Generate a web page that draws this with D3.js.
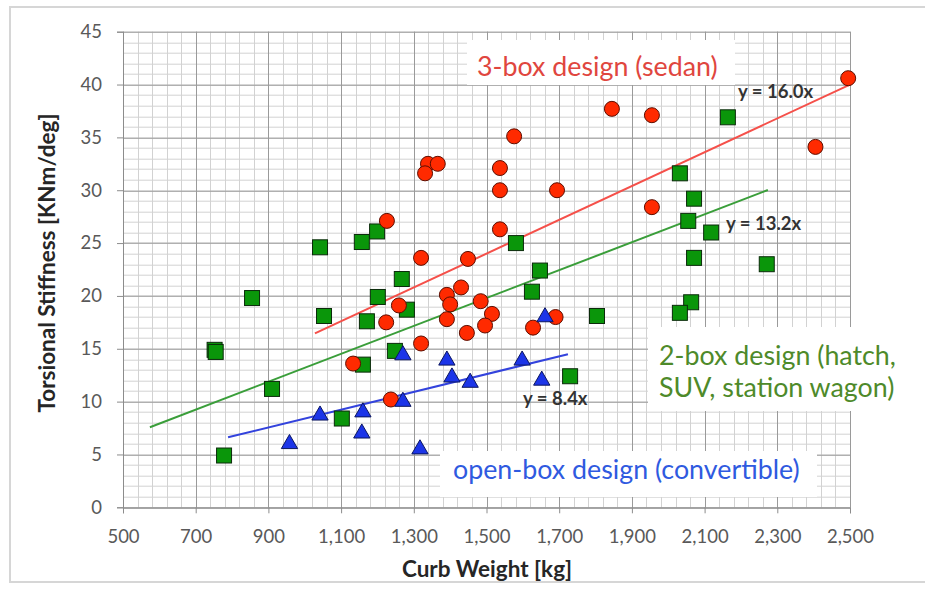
<!DOCTYPE html>
<html>
<head>
<meta charset="utf-8">
<script src="https://cdn.jsdelivr.net/npm/d3@7"></script>
<style>
  body { margin: 0; background: #fff; overflow: hidden; }
  text { font-family: Lato, "Open Sans", sans-serif; }
</style>
</head>
<body>
<div id="chart"></div>
<script>
// values: curb weight [kg], stiffness [KNm/deg]
const sedanWeight = [2495, 2405, 1845, 1955, 1576, 1955, 1694, 1537, 1537, 1537, 1339, 1366, 1331, 1226, 1320, 1449,
	1430, 1391, 1400, 1259, 1484, 1515, 1496, 1391, 1224, 1446, 1320, 1628, 1690, 1133, 1237];
const sedanStiffness = [40.6, 34.1, 37.7, 37.1, 35.1, 28.4, 30.0, 32.1, 30.0, 26.3, 32.5, 32.5, 31.6, 27.1, 23.6, 23.5,
	20.8, 20.1, 19.2, 19.1, 19.5, 18.3, 17.2, 17.8, 17.5, 16.5, 15.5, 17.0, 18.0, 13.6, 10.2];

const hatchWeight = [752, 755, 855, 910, 778, 1042, 1053, 1157, 1199, 1267, 1201, 1171, 1281, 1248, 1160, 1102,
	1581, 1647, 1625, 1804, 1730, 2164, 2032, 2071, 2055, 2118, 2071, 2271, 2063, 2032];
const hatchStiffness = [14.9, 14.7, 19.8, 11.2, 4.9, 24.6, 18.1, 25.1, 26.1, 21.6, 19.9, 17.6, 18.7, 14.8, 13.5, 8.4,
	25.0, 22.4, 20.4, 18.1, 12.4, 36.9, 31.6, 29.2, 27.1, 26.0, 23.6, 23.0, 19.4, 18.4];

const convWeight = [958, 1042, 1160, 1157, 1270, 1270, 1317, 1391, 1405, 1455, 1598, 1652, 1661];
const convStiffness = [6.0, 8.7, 9.0, 7.0, 14.4, 10.0, 5.5, 13.9, 12.3, 11.8, 13.9, 12.0, 18.0];

// linear fits through zero (slope per tonne) and the span each line covers
const trendSlopes = [16.0, 13.2, 8.4];
const trendFrom = [1028, 574, 789];
const trendTo = [2500, 2274, 1724];
const trendLabels = ['y = 16.0x', 'y = 13.2x', 'y = 8.4x'];

const xTickValues = [500, 700, 900, 1100, 1300, 1500, 1700, 1900, 2100, 2300, 2500];
const yTickValues = [0, 5, 10, 15, 20, 25, 30, 35, 40, 45];

// set the dimensions and margins of the graph
const margin = { top: 31.7, right: 75, bottom: 83.7, left: 123 },
	width = 925 - margin.left - margin.right,
	height = 591 - margin.top - margin.bottom;

const root = d3.select('#chart')
	.append('svg')
	.attr('width', 925)
	.attr('height', 591);

// light frame around the whole chart
root.append('rect')
	.attr('x', 10).attr('y', 7)
	.attr('width', 940).attr('height', 575)
	.attr('fill', 'none')
	.attr('stroke', '#d6d6d6')
	.attr('stroke-width', 2);

const svg = root.append('g')
	.attr('transform', `translate(${margin.left},${margin.top})`);

const x = d3.scaleLinear().domain([500, 2500]).range([0, width]);
const y = d3.scaleLinear().domain([0, 45]).range([height, 0]);

// minor grid first, then major
const snap = v => Math.round(v) + 0.5;
svg.append('g')
	.selectAll('line')
	.data(d3.range(500, 2501, 40))
	.join('line')
	.attr('x1', d => snap(x(d))).attr('x2', d => snap(x(d)))
	.attr('y1', 0).attr('y2', height)
	.attr('stroke', '#d2d2d2');
svg.append('g')
	.selectAll('line')
	.data(d3.range(0, 46, 1))
	.join('line')
	.attr('y1', d => snap(y(d))).attr('y2', d => snap(y(d)))
	.attr('x1', 0).attr('x2', width)
	.attr('stroke', '#d2d2d2');
svg.append('g')
	.selectAll('line')
	.data(xTickValues)
	.join('line')
	.attr('x1', d => snap(x(d))).attr('x2', d => snap(x(d)))
	.attr('y1', 0).attr('y2', height)
	.attr('stroke', '#9a9a9a');
svg.append('g')
	.selectAll('line')
	.data(yTickValues)
	.join('line')
	.attr('y1', d => snap(y(d))).attr('y2', d => snap(y(d)))
	.attr('x1', 0).attr('x2', width)
	.attr('stroke', '#9a9a9a');

// axes
const xAxis = svg.append('g')
	.attr('transform', `translate(0,${height})`)
	.call(d3.axisBottom(x).tickValues(xTickValues).tickFormat(d3.format(',')).tickSize(6).tickPadding(17));
const yAxis = svg.append('g')
	.call(d3.axisLeft(y).tickValues(yTickValues).tickSize(6).tickPadding(15));
[xAxis, yAxis].forEach(a => {
	a.select('.domain').attr('stroke', '#8c8c8c');
	a.selectAll('.tick line').attr('stroke', '#8c8c8c');
	a.selectAll('text')
		.attr('fill', '#595959')
		.style('font-family', 'Lato, sans-serif')
		.style('font-size', '18.5px');
});

// axis titles
root.append('text')
	.attr('x', 487).attr('y', 577)
	.attr('text-anchor', 'middle')
	.attr('font-size', 22.5).attr('font-weight', 'bold')
	.attr('fill', '#262626')
	.text('Curb Weight [kg]');
root.append('text')
	.attr('transform', 'translate(55,263) rotate(-90)')
	.attr('text-anchor', 'middle')
	.attr('font-size', 22.5).attr('font-weight', 'bold')
	.attr('fill', '#262626')
	.text('Torsional Stiffness [KNm/deg]');

// trend lines
const trendColors = ['#f5504a', '#3a9e3a', '#3343dd'];
trendSlopes.forEach((k, i) => {
	svg.append('line')
		.attr('x1', x(trendFrom[i])).attr('y1', y(k * trendFrom[i] / 1000))
		.attr('x2', x(trendTo[i])).attr('y2', y(k * trendTo[i] / 1000))
		.attr('stroke', trendColors[i])
		.attr('stroke-width', 2);
});

// markers
svg.append('g')
	.selectAll('rect')
	.data(hatchWeight)
	.join('rect')
	.attr('x', (d, i) => x(d) - 7.5)
	.attr('y', (d, i) => y(hatchStiffness[i]) - 7.5)
	.attr('width', 15).attr('height', 15)
	.attr('fill', '#0a960a')
	.attr('stroke', '#0b2a0b');

svg.append('g')
	.selectAll('circle')
	.data(sedanWeight)
	.join('circle')
	.attr('cx', d => x(d))
	.attr('cy', (d, i) => y(sedanStiffness[i]))
	.attr('r', 7.5)
	.attr('fill', '#ff2a00')
	.attr('stroke', '#5c0d00');

svg.append('g')
	.selectAll('path')
	.data(convWeight)
	.join('path')
	.attr('transform', (d, i) => `translate(${x(d)},${y(convStiffness[i])})`)
	.attr('d', d3.symbol(d3.symbolTriangle, 115))
	.attr('fill', '#1c35e8')
	.attr('stroke', '#0b1660');

// fit equations
const eqPos = [[738, 98], [726, 230], [523, 405]];
trendLabels.forEach((t, i) => {
	root.append('text')
		.attr('x', eqPos[i][0]).attr('y', eqPos[i][1])
		.attr('font-size', 18.5).attr('font-weight', 'bold')
		.attr('fill', '#333')
		.text(t);
});

// text boxes sitting on the plot
function note(box, lines, color) {
	root.append('rect')
		.attr('x', box[0]).attr('y', box[1])
		.attr('width', box[2]).attr('height', box[3])
		.attr('fill', '#fff');
	lines.forEach(l => {
		root.append('text')
			.attr('x', l[1]).attr('y', l[2])
			.attr('font-size', 26.8)
			.attr('fill', color)
			.text(l[0]);
	});
}
note([467, 40, 268, 45], [['3-box design (sedan)', 477, 76]], '#e0463e');
note([648, 327, 272, 84], [['2-box design (hatch,', 659, 365], ['SUV, station wagon)', 659, 397]], '#4e8a2a');
note([440, 451, 377, 46], [['open-box design (convertible)', 453, 479]], '#2f5ae0');
</script>
</body>
</html>
